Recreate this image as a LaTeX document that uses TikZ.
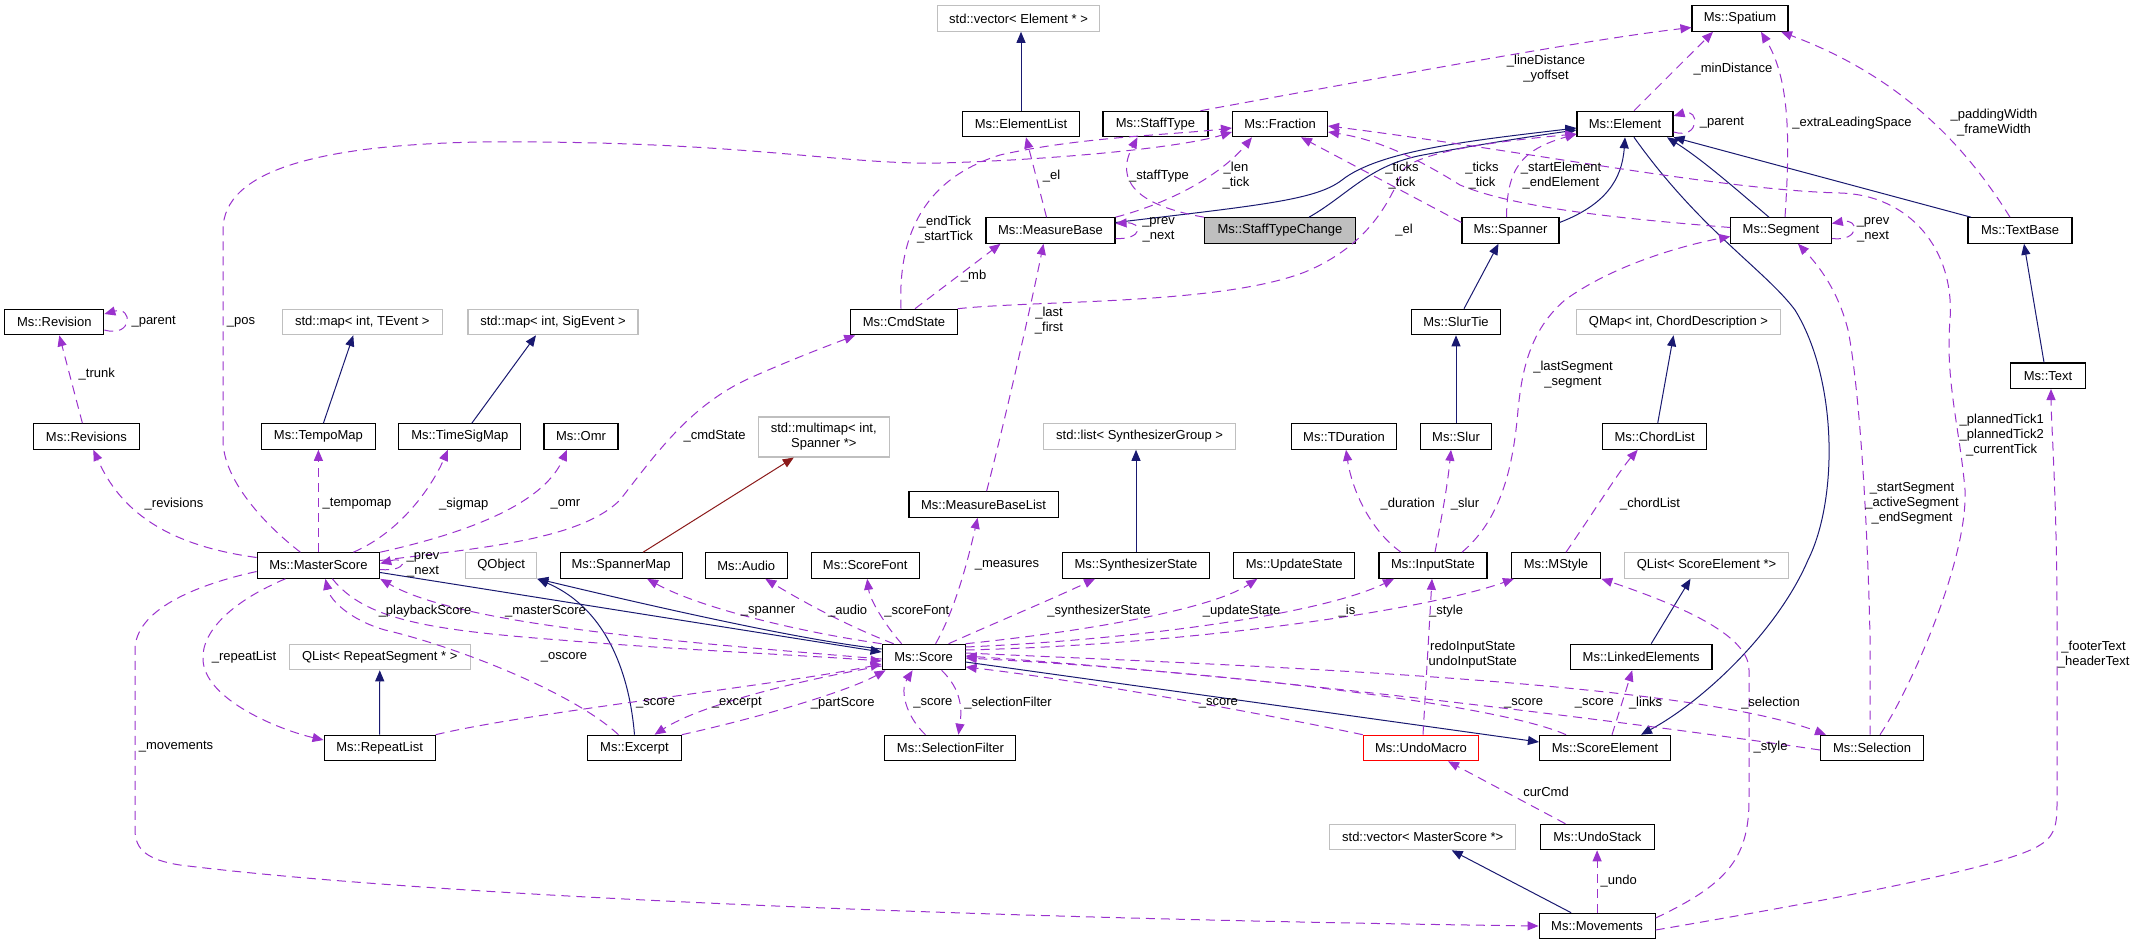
\documentclass[tikz,border=0pt]{standalone}
\usepackage{fontspec}
\setmainfont{Liberation Sans}
\usetikzlibrary{arrows.meta}
\definecolor{inhc}{HTML}{191970}
\definecolor{usec}{HTML}{9A32CD}
\definecolor{tplc}{HTML}{8B1A1A}
\definecolor{extc}{HTML}{BFBFBF}
\begin{document}
\begin{tikzpicture}[x=1pt,y=-1pt,font=\fontsize{13}{15}\selectfont,
  cls/.style={draw=black,line width=1.1pt,minimum height=25.5pt,inner sep=0pt,fill=white},
  ext/.style={cls,draw=extc},
  inhe/.style={draw=inhc,line width=1pt,-{Triangle[length=11pt,width=9pt]}},
  usee/.style={draw=usec,line width=1pt,dash pattern=on 9pt off 6pt,-{Triangle[length=11pt,width=9pt]}},
  tple/.style={draw=tplc,line width=1pt,-{Triangle[length=11pt,width=9pt]}},
  lbl/.style={inner sep=0pt,align=center}]
\useasboundingbox (0,0) rectangle (2136,945);
% nodes
\node[ext,minimum width=162pt] (vecEl) at (1018.6,18.5) {std::vector< Element * >};
\node[cls,minimum width=96pt] (spatium) at (1740,18.5) {Ms::Spatium};
\node[cls,minimum width=117pt] (elemlist) at (1021,124) {Ms::ElementList};
\node[cls,minimum width=105pt] (stafftype) at (1155.5,124) {Ms::StaffType};
\node[cls,minimum width=95pt] (fraction) at (1280,124) {Ms::Fraction};
\node[cls,minimum width=96pt] (element) at (1625,124) {Ms::Element};
\node[cls,minimum width=129pt] (measurebase) at (1050.5,230.5) {Ms::MeasureBase};
\node[cls,minimum width=151pt,fill=extc] (stc) at (1280,230.5) {Ms::StaffTypeChange};
\node[cls,minimum width=97pt] (spanner) at (1510.5,230.5) {Ms::Spanner};
\node[cls,minimum width=100.5pt] (segment) at (1781,230.5) {Ms::Segment};
\node[cls,minimum width=104pt] (textbase) at (2020,230.5) {Ms::TextBase};
\node[cls,minimum width=99pt] (revision) at (54.3,322) {Ms::Revision};
\node[ext,minimum width=160pt] (mapTE) at (362.3,322) {std::map< int, TEvent >};
\node[ext,minimum width=170pt] (mapSE) at (553,322) {std::map< int, SigEvent >};
\node[cls,minimum width=106.4pt] (cmdstate) at (904,322) {Ms::CmdState};
\node[cls,minimum width=89.7pt] (slurtie) at (1456,322) {Ms::SlurTie};
\node[ext,minimum width=204pt] (qmap) at (1678.5,322) {QMap< int, ChordDescription >};
\node[cls,minimum width=75pt] (text) at (2048,375.7) {Ms::Text};
\node[cls,minimum width=106pt] (revisions) at (86.4,436.5) {Ms::Revisions};
\node[cls,minimum width=114pt] (tempomap) at (318.4,436.5) {Ms::TempoMap};
\node[cls,minimum width=122pt] (timesigmap) at (459.8,436.5) {Ms::TimeSigMap};
\node[cls,minimum width=74pt] (omr) at (581,436.5) {Ms::Omr};
\node[ext,minimum width=131pt,minimum height=40pt,align=center] (multimap) at (823.8,437) {std::multimap< int,\\ Spanner *>};
\node[ext,minimum width=192pt] (synthlist) at (1139.6,436.5) {std::list< SynthesizerGroup >};
\node[cls,minimum width=105.5pt] (tduration) at (1344,436.5) {Ms::TDuration};
\node[cls,minimum width=71pt] (slur) at (1456,436.5) {Ms::Slur};
\node[cls,minimum width=104pt] (chordlist) at (1654.7,436.5) {Ms::ChordList};
\node[cls,minimum width=149.3pt] (mblist) at (983.6,504.5) {Ms::MeasureBaseList};
\node[cls,minimum width=122.5pt] (masterscore) at (318.4,565.5) {Ms::MasterScore};
\node[ext,minimum width=71pt] (qobject) at (501.2,565.5) {QObject};
\node[cls,minimum width=122pt] (spannermap) at (621.1,565.5) {Ms::SpannerMap};
\node[cls,minimum width=81.8pt] (audio) at (746.3,565.5) {Ms::Audio};
\node[cls,minimum width=108.3pt] (scorefont) at (865.2,565.5) {Ms::ScoreFont};
\node[cls,minimum width=147.5pt] (synthstate) at (1136,565.5) {Ms::SynthesizerState};
\node[cls,minimum width=121pt] (updatestate) at (1294.3,565.5) {Ms::UpdateState};
\node[cls,minimum width=108pt] (inputstate) at (1433,565.5) {Ms::InputState};
\node[cls,minimum width=89.5pt] (mstyle) at (1556,565.5) {Ms::MStyle};
\node[ext,minimum width=164pt] (qlistSE) at (1706.5,565.5) {QList< ScoreElement *>};
\node[ext,minimum width=181pt] (qlistRS) at (379.8,657) {QList< RepeatSegment * >};
\node[cls,minimum width=83pt] (score) at (923.6,657) {Ms::Score};
\node[cls,minimum width=141.5pt] (linked) at (1641.2,657) {Ms::LinkedElements};
\node[cls,minimum width=111pt] (repeatlist) at (379.6,748) {Ms::RepeatList};
\node[cls,minimum width=93.5pt] (excerpt) at (634.5,748) {Ms::Excerpt};
\node[cls,minimum width=131pt] (selfilter) at (950.4,748) {Ms::SelectionFilter};
\node[cls,minimum width=115.5pt,draw=red] (undomacro) at (1421,748) {Ms::UndoMacro};
\node[cls,minimum width=131pt] (scoreelement) at (1605,748) {Ms::ScoreElement};
\node[cls,minimum width=103pt] (selection) at (1872,748) {Ms::Selection};
\node[ext,minimum width=186pt] (vecMS) at (1422.7,837) {std::vector< MasterScore *>};
\node[cls,minimum width=114pt] (undostack) at (1597.4,837) {Ms::UndoStack};
\node[cls,minimum width=116pt] (movements) at (1597.1,926) {Ms::Movements};
% inheritance / template edges
\draw[inhe] (elemlist) -- (elemlist |- vecEl.south);
\draw[inhe] ([yshift=8pt]measurebase.east) .. controls (1262,205) and (1316,200) .. (1342,180) .. controls (1380,150) and (1476,140) .. ([yshift=-4pt]element.west);
\draw[inhe] ([xshift=29pt]stc.north) .. controls (1348,195) and (1369,165) .. (1423,155) .. controls (1487,143) and (1541,135) .. ([yshift=-6pt]element.west);
\draw[inhe] ([yshift=8pt]spanner.east) .. controls (1605,205) and (1622,180) .. (element.south);
\draw[inhe] ([xshift=-12pt]segment.north) .. controls (1737,190) and (1703,160) .. ([xshift=42pt]element.south);
\draw[inhe] ([xshift=-49pt]textbase.north) -- (element.south east);
\draw[inhe] ([xshift=9pt]element.south) .. controls (1700,230) and (1765,270) .. (1795,310) .. controls (1838,380) and (1838,500) .. (1808,560) .. controls (1778,630) and (1705,700) .. ([xshift=36pt]scoreelement.north);
\draw[inhe] ([xshift=5pt]tempomap.north) -- ([xshift=-9pt]mapTE.south);
\draw[inhe] ([xshift=12pt]timesigmap.north) -- ([xshift=-17pt]mapSE.south);
\draw[inhe] ([yshift=-7pt]masterscore.east) -- ([yshift=5pt]score.west);
\draw[inhe] ([yshift=8pt]score.west) .. controls (797,640) and (626,600) .. (qobject.south east);
\draw[inhe] (excerpt.north) .. controls (630,680) and (610,610) .. (qobject.south east);
\draw[inhe] ([yshift=-5pt]score.east) -- ([yshift=6pt]scoreelement.west);
\draw[inhe] ([xshift=10pt]linked.north) -- ([xshift=-16pt]qlistSE.south);
\draw[inhe] (repeatlist) -- (qlistRS);
\draw[inhe] ([xshift=-26pt]movements.north) -- ([xshift=29pt]vecMS.south);
\draw[inhe] ([xshift=3pt]chordlist.north) -- ([xshift=-5pt]qmap.south);
\draw[inhe] ([xshift=8pt]slurtie.north) -- ([xshift=-12pt]spanner.south);
\draw[inhe] (slur) -- (slurtie);
\draw[inhe] ([xshift=-4pt]text.north) -- ([xshift=4pt]textbase.south);
\draw[inhe] (synthstate) -- (synthstate |- synthlist.south);
\draw[tple] ([xshift=22pt]spannermap.north) -- ([xshift=-30pt]multimap.south);
% usage edges
\draw[usee] ([xshift=9pt]element.north) -- ([xshift=-27pt]spatium.south);
\draw[usee] ([xshift=4pt]segment.north) .. controls (1790,140) and (1790,80) .. ([xshift=21pt]spatium.south);
\draw[usee] ([xshift=-10pt]textbase.north) .. controls (1968,150) and (1905,78) .. ([xshift=41pt]spatium.south);
\draw[usee] ([xshift=45pt]stafftype.north) .. controls (1369,80) and (1583,40) .. ([yshift=-9pt]spatium.west);
\draw[usee] ([yshift=-8pt]element.east) .. controls (1700,140) and (1700,108) .. ([yshift=8pt]element.east);
\draw[usee] ([yshift=8pt]spanner.west) -- ([xshift=21pt]fraction.south);
\draw[usee] ([yshift=3pt]segment.west) .. controls (1640,220) and (1520,210) .. (1460,185) .. controls (1420,160) and (1380,140) .. ([yshift=-8pt]fraction.east);
\draw[usee] ([xshift=8pt]selection.north) .. controls (1910,690) and (1968,560) .. (1965,490) .. controls (1960,430) and (1945,380) .. (1950,320) .. controls (1955,250) and (1910,195) .. (1840,193) .. controls (1720,190) and (1520,150) .. ([yshift=-2pt]fraction.east);
\draw[usee] ([xshift=-4pt]spanner.north) .. controls (1507,170) and (1520,150) .. ([yshift=-10pt]element.west);
\draw[usee] (cmdstate.north east) .. controls (1040,300) and (1220,305) .. (1305,272) .. controls (1370,245) and (1390,200) .. (1403,170) .. controls (1420,150) and (1510,140) .. ([yshift=-10pt]element.west);
\draw[usee] ([xshift=-4pt]measurebase.north) -- ([xshift=5pt]elemlist.south);
\draw[usee] (measurebase.north east) .. controls (1180,200) and (1225,170) .. ([xshift=-28pt]fraction.south);
\draw[usee] (stc.north west) .. controls (1135,205) and (1115,180) .. ([xshift=-18pt]stafftype.south);
\draw[usee] ([yshift=-8pt]measurebase.east) .. controls (1143,240) and (1143,222) .. ([yshift=7pt]measurebase.east);
\draw[usee] ([xshift=-18pt]masterscore.north) .. controls (265,525) and (223,480) .. (223,440) -- (223,230) .. controls (223,170) and (320,145) .. (480,142) .. controls (740,140) and (840,165) .. (940,163) .. controls (1050,160) and (1180,148) .. ([yshift=-8pt]fraction.west);
\draw[usee] ([xshift=-3pt]cmdstate.north) .. controls (898,240) and (920,180) .. (1000,155) .. controls (1080,137) and (1170,135) .. ([yshift=-4pt]fraction.west);
\draw[usee] ([xshift=11pt]cmdstate.north) -- ([xshift=-50pt]measurebase.south);
\draw[usee] ([xshift=3pt]mblist.north) .. controls (1005,420) and (1030,310) .. ([xshift=-7pt]measurebase.south);
\draw[usee] ([yshift=5pt]masterscore.east) .. controls (480,548) and (580,540) .. (620,500) .. controls (655,455) and (690,405) .. (750,378) .. controls (795,358) and (830,345) .. ([xshift=5pt]cmdstate.south west);
\draw[usee] (masterscore.north east) .. controls (480,530) and (545,500) .. ([xshift=-14pt]omr.south);
\draw[usee] (masterscore) -- (tempomap);
\draw[usee] ([xshift=35pt]masterscore.north) .. controls (405,530) and (435,480) .. ([xshift=-12pt]timesigmap.south);
\draw[usee] ([yshift=8pt]masterscore.west) .. controls (165,545) and (120,510) .. ([xshift=7pt]revisions.south);
\draw[usee] ([xshift=-4pt]revisions.north) -- ([xshift=5pt]revision.south);
\draw[usee] ([yshift=-8pt]revision.east) .. controls (133,338) and (133,306) .. ([yshift=8pt]revision.east);
\draw[usee] ([yshift=-4pt]masterscore.east) .. controls (408,572) and (408,556) .. ([yshift=2pt]masterscore.east);
\draw[usee] (score.north west) .. controls (800,632) and (700,608) .. ([xshift=26pt]spannermap.south);
\draw[usee] ([xshift=-30pt]score.north) .. controls (845,625) and (800,600) .. ([xshift=19pt]audio.south);
\draw[usee] ([xshift=-22pt]score.north) .. controls (885,625) and (870,600) .. ([xshift=2pt]scorefont.south);
\draw[usee] ([xshift=12pt]score.north) .. controls (955,610) and (968,560) .. ([xshift=-6pt]mblist.south);
\draw[usee] ([xshift=25pt]score.north) .. controls (990,625) and (1050,600) .. ([xshift=-41pt]synthstate.south);
\draw[usee] (score.north east) .. controls (1080,632) and (1210,610) .. ([xshift=-37pt]updatestate.south);
\draw[usee] ([yshift=10pt]score.east) .. controls (1130,640) and (1320,615) .. ([xshift=-39pt]inputstate.south);
\draw[usee] ([yshift=7pt]score.east) .. controls (1180,645) and (1420,612) .. ([xshift=-42pt]mstyle.south);
\draw[usee] ([yshift=4pt]score.east) .. controls (1230,665) and (1680,680) .. ([xshift=-46pt]selection.north);
\draw[usee] ([yshift=-2pt]selection.west) .. controls (1720,735) and (1320,680) .. ([yshift=1pt]score.east);
\draw[usee] ([xshift=-39pt]scoreelement.north) .. controls (1500,705) and (1230,672) .. ([yshift=-1pt]score.east);
\draw[usee] (undomacro.north west) .. controls (1270,715) and (1080,680) .. ([yshift=-10pt]score.east);
\draw[usee] ([xshift=2pt]undomacro.north) -- ([xshift=-1pt]inputstate.south);
\draw[usee] ([xshift=7pt]scoreelement.north) -- ([xshift=-9pt]linked.south);
\draw[usee] ([yshift=-2pt]score.west) .. controls (680,642) and (460,625) .. (masterscore.south east);
\draw[usee] ([xshift=14pt]masterscore.south) .. controls (365,620) and (430,630) .. (560,640) .. controls (680,650) and (800,655) .. ([yshift=-4pt]score.west);
\draw[usee] ([xshift=-16pt]excerpt.north) .. controls (570,690) and (450,645) .. (385,630) .. controls (350,620) and (330,600) .. ([xshift=7pt]masterscore.south);
\draw[usee] ([xshift=-33pt]masterscore.south) .. controls (235,600) and (201,630) .. (203,660) .. controls (205,700) and (280,730) .. ([yshift=8pt]repeatlist.west);
\draw[usee] (repeatlist.north east) .. controls (530,712) and (780,685) .. ([yshift=-7pt]score.west);
\draw[usee] ([yshift=-9pt]score.west) .. controls (800,680) and (700,705) .. ([xshift=20pt]excerpt.north);
\draw[usee] (excerpt.north east) .. controls (770,715) and (850,690) .. ([xshift=4pt]score.south west);
\draw[usee] ([xshift=18pt]score.south) .. controls (962,690) and (962,710) .. ([xshift=8pt]selfilter.north);
\draw[usee] ([xshift=-25pt]selfilter.north) .. controls (905,715) and (900,690) .. ([xshift=-11pt]score.south);
\draw[usee] ([yshift=-6pt]masterscore.west) .. controls (195,585) and (135,610) .. (135,650) -- (135,830) .. controls (135,850) and (148,860) .. (180,865) .. controls (420,895) and (940,918) .. (movements.west);
\draw[usee] (movements) -- (movements |- undostack.south);
\draw[usee] ([xshift=-32pt]undostack.north) -- ([xshift=27pt]undomacro.south);
\draw[usee] ([yshift=8pt]movements.east) .. controls (1725,885) and (1749,860) .. (1749,800) -- (1749,670) .. controls (1749,640) and (1700,612) .. (mstyle.south east);
\draw[usee] ([yshift=-4pt]movements.east) .. controls (1860,895) and (2010,865) .. (2040,845) .. controls (2057,835) and (2057,820) .. (2057,800) -- (2057,620) .. controls (2057,500) and (2051,420) .. ([xshift=3pt]text.south);
\draw[usee] ([xshift=10pt]mstyle.north) .. controls (1595,510) and (1620,470) .. ([xshift=-17pt]chordlist.south);
\draw[usee] ([xshift=-32pt]inputstate.north) .. controls (1370,530) and (1352,490) .. ([xshift=2pt]tduration.south);
\draw[usee] ([xshift=2pt]inputstate.north) .. controls (1441,520) and (1447,490) .. ([xshift=-5pt]slur.south);
\draw[usee] ([xshift=29pt]inputstate.north) .. controls (1500,520) and (1513,470) .. (1518,410) .. controls (1522,370) and (1530,330) .. (1565,300) .. controls (1620,260) and (1700,242) .. ([yshift=-6pt]segment.west);
\draw[usee] ([xshift=-2pt]selection.north) -- (1870,637) .. controls (1867,500) and (1858,380) .. (1848,330) .. controls (1838,290) and (1818,265) .. ([xshift=17pt]segment.south);
\draw[usee] ([yshift=-8pt]segment.east) .. controls (1860,242) and (1860,218) .. ([yshift=7pt]segment.east);
% labels
\node[lbl] (l1) at (1733,69) {\_minDistance};
\node[lbl] (l2) at (1852,123) {\_extraLeadingSpace};
\node[lbl] (l3) at (1994,123) {\_paddingWidth\\\_frameWidth};
\node[lbl] (l4) at (1546,69) {\_lineDistance\\\_yoffset};
\node[lbl] (l5) at (1722,123) {\_parent};
\node[lbl] (l6) at (1159,176) {\_staffType};
\node[lbl] (l7) at (1236,176) {\_len\\\_tick};
\node[lbl] (l8) at (1158.5,230) {\_prev\\\_next};
\node[lbl] (l9) at (1402,176) {\_ticks\\\_tick};
\node[lbl] (l10) at (1404,230) {\_el};
\node[lbl] (l11) at (1482,176) {\_ticks\\\_tick};
\node[lbl] (l12) at (1561,176) {\_startElement\\\_endElement};
\node[lbl] (l13) at (1051.6,176) {\_el};
\node[lbl] (l14) at (945,230) {\_endTick\\\_startTick};
\node[lbl] (l15) at (973.6,276) {\_mb};
\node[lbl] (l16) at (1049,321) {\_last\\\_first};
\node[lbl] (l17) at (1873,230) {\_prev\\\_next};
\node[lbl] (l18) at (241,322) {\_pos};
\node[lbl] (l19) at (153.6,322) {\_parent};
\node[lbl] (l20) at (96.8,374) {\_trunk};
\node[lbl] (l21) at (174,504) {\_revisions};
\node[lbl] (l22) at (357,504) {\_tempomap};
\node[lbl] (l23) at (463.8,504) {\_sigmap};
\node[lbl] (l24) at (565.5,504) {\_omr};
\node[lbl] (l25) at (714.6,436) {\_cmdState};
\node[lbl] (l26) at (1573,375) {\_lastSegment\\\_segment};
\node[lbl] (l27) at (1912,503) {\_startSegment\\\_activeSegment\\\_endSegment};
\node[lbl] (l28) at (2001.7,435) {\_plannedTick1\\\_plannedTick2\\\_currentTick};
\node[lbl] (l29) at (1650,504) {\_chordList};
\node[lbl] (l30) at (1407.7,504) {\_duration};
\node[lbl] (l31) at (1465,504) {\_slur};
\node[lbl] (l32) at (1007,565) {\_measures};
\node[lbl] (l33) at (423,565) {\_prev\\\_next};
\node[lbl] (l34) at (425,611) {\_playbackScore};
\node[lbl] (l35) at (545.5,611) {\_masterScore};
\node[lbl] (l36) at (768,611) {\_spanner};
\node[lbl] (l37) at (847.7,611) {\_audio};
\node[lbl] (l38) at (916.8,611) {\_scoreFont};
\node[lbl] (l39) at (1099,611) {\_synthesizerState};
\node[lbl] (l40) at (1241.6,611) {\_updateState};
\node[lbl] (l41) at (1347,611) {\_is};
\node[lbl] (l42) at (1446,611) {\_style};
\node[lbl] (l43) at (244,657) {\_repeatList};
\node[lbl] (l44) at (564,657) {\_oscore};
\node[lbl] (l45) at (655.7,703) {\_score};
\node[lbl] (l46) at (736.7,703) {\_excerpt};
\node[lbl] (l47) at (842.7,703) {\_partScore};
\node[lbl] (l48) at (932.8,703) {\_score};
\node[lbl] (l49) at (1008,703) {\_selectionFilter};
\node[lbl] (l50) at (1472.8,655) {redoInputState\\undoInputState};
\node[lbl] (l51) at (1218.4,703) {\_score};
\node[lbl] (l52) at (1523.6,703) {\_score};
\node[lbl] (l53) at (1594.3,703) {\_score};
\node[lbl] (l54) at (1645.6,703) {\_links};
\node[lbl] (l55) at (1770.5,703) {\_selection};
\node[lbl] (l56) at (1770.6,747) {\_style};
\node[lbl] (l57) at (176,747) {\_movements};
\node[lbl] (l58) at (1546,792) {curCmd};
\node[lbl] (l59) at (1618.7,881) {\_undo};
\node[lbl] (l60) at (2093.6,655) {\_footerText\\\_headerText};
\end{tikzpicture}
\end{document}
